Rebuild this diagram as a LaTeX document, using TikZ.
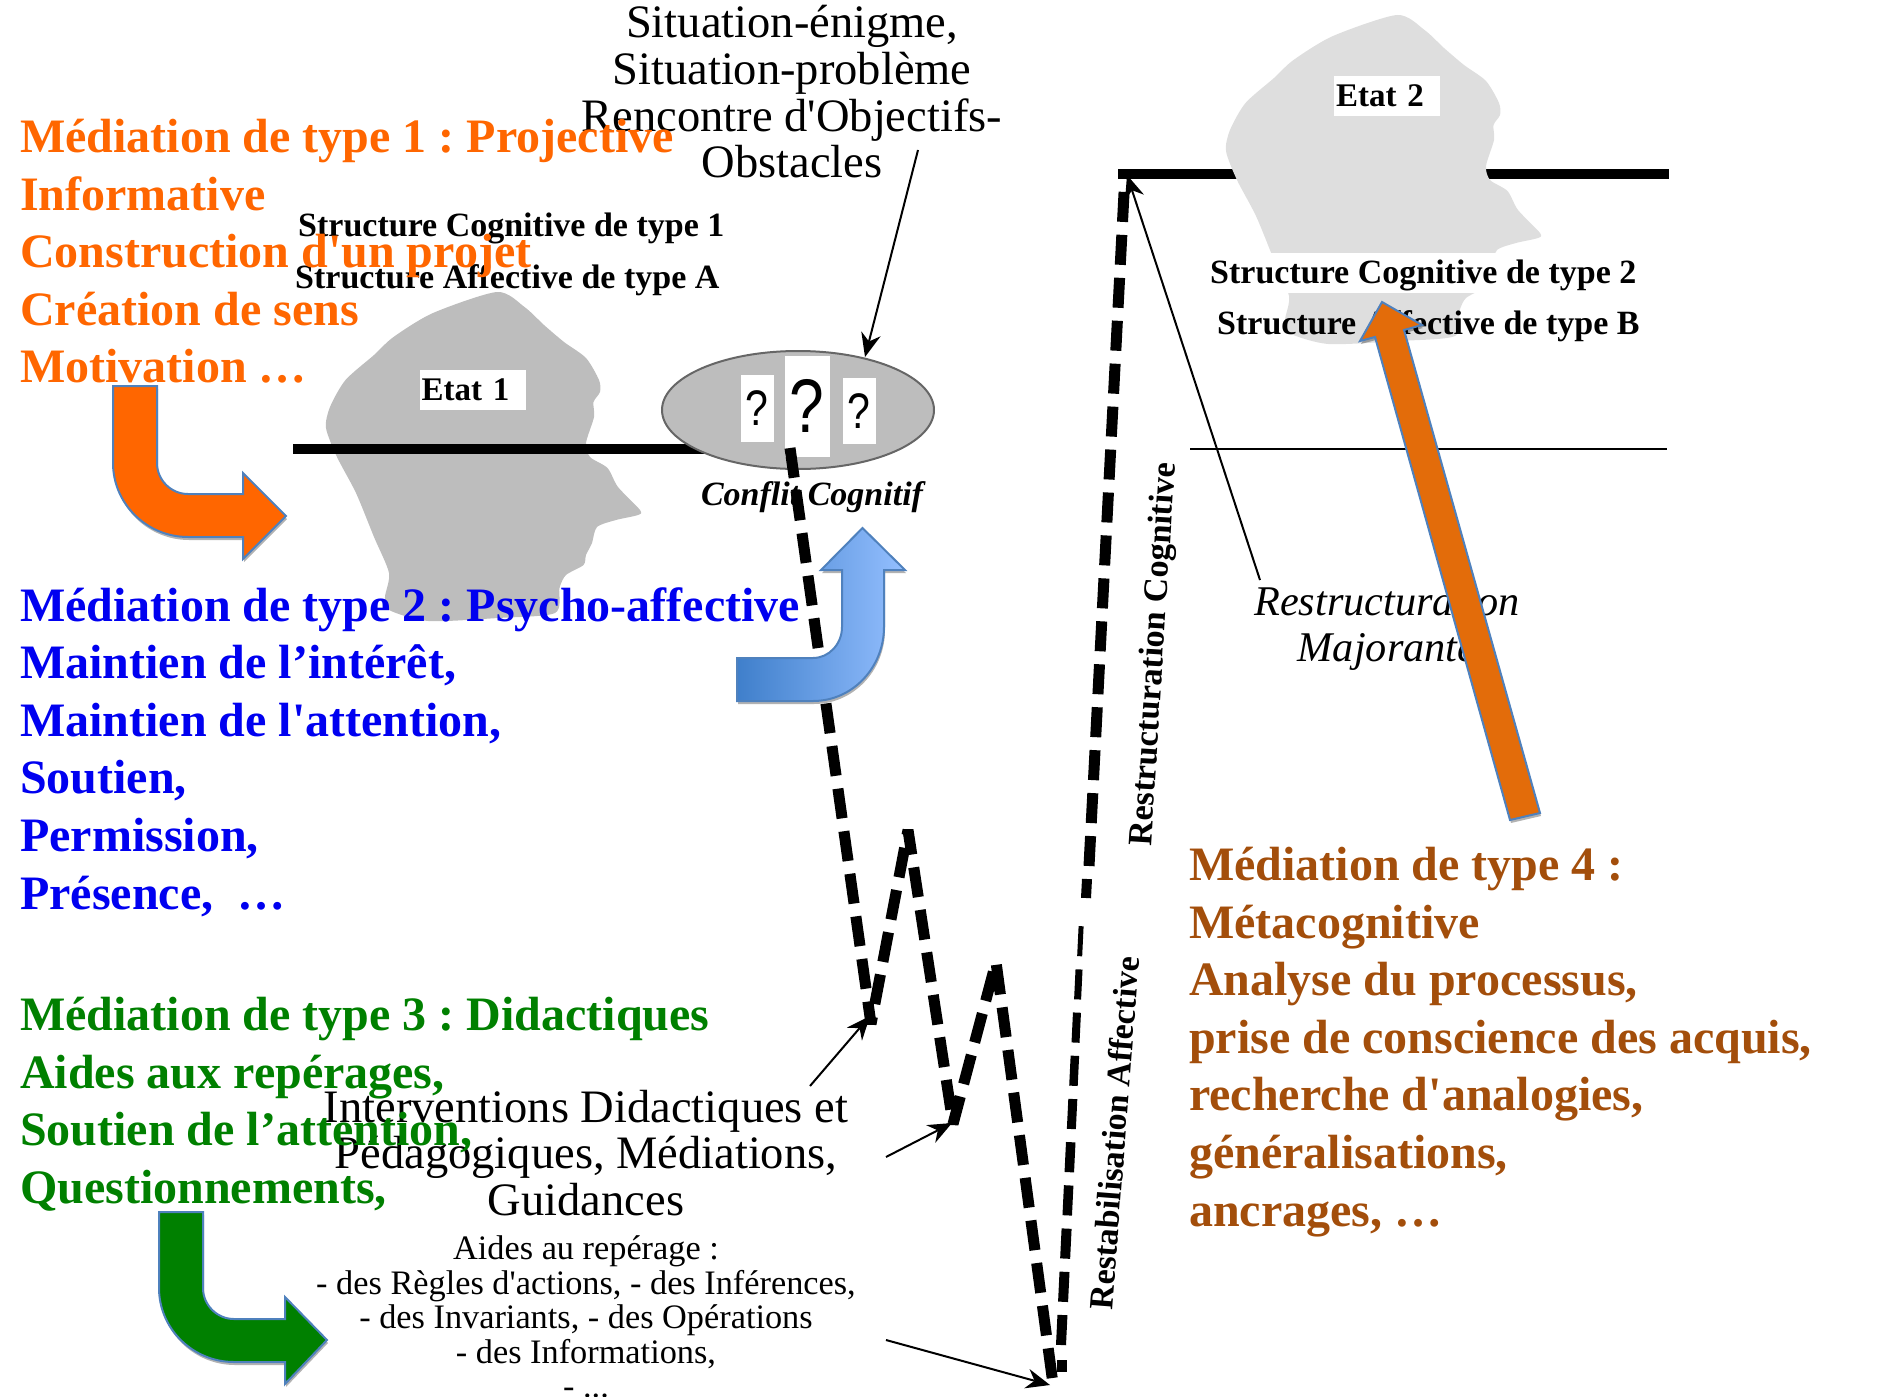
\documentclass[tikz,border=0pt]{standalone}
\usepackage{fontspec}
\setmainfont{Liberation Serif}[Ligatures=TeXOff]
\newfontfamily\qfont{Liberation Sans}
\usetikzlibrary{arrows.meta,shadows,shapes.geometric}
\definecolor{orangeA}{HTML}{FF6600}
\definecolor{blueA}{HTML}{0000F0}
\definecolor{greenA}{HTML}{008000}
\definecolor{brownA}{HTML}{A34E0B}
\definecolor{edgeA}{HTML}{4F81BD}
\definecolor{headA}{HTML}{BDBDBD}
\definecolor{headB}{HTML}{DEDEDE}
\definecolor{orangeB}{HTML}{E36C0A}
\definecolor{blueL}{HTML}{3F7FCB}
\definecolor{blueR}{HTML}{94BFFF}
\newcommand{\fsz}[1]{\fontsize{#1}{#1}\selectfont}
\newcommand{\narrowq}{\scalebox{.82}[1]{?}}
\newcommand{\headcoords}{(497,292)(524.5,307)(544,325)(564,342)(586,358)(599,380)(600,392)(593.5,402)(594,417)(586,443)(590,457)(607.5,468)(618,487)(640,510)(638,515)(616,520)(597,527)(592,543)(586,555)(583.5,565)(566,575)(559.5,588)(555,613)(498,618)(428.5,621)(389,610)(385,597)(389,573)(374,537)(356,493)(337,457)(326,428)(330,407)(345.5,380)(374,355)(393.5,337)(433,313)}
\tikzset{
  medtext/.style={anchor=north west,inner sep=0pt,align=left,font=\fontsize{48}{57.6}\selectfont\bfseries},
  plaintext/.style={inner sep=0pt,align=center,font=\fontsize{46.5}{46.7}\selectfont},
  boldlabel/.style={inner sep=0pt,anchor=base west,font=\fsz{34}\bfseries},
  etatbox/.style={fill=white,inner xsep=2pt,inner ysep=0pt,text width=102pt,align=left,minimum height=40pt,font=\fsz{33}\bfseries},
  qbox/.style={fill=white,inner sep=0pt,font=\qfont},
  thick bar/.style={line width=10pt},
  thinarrow/.style={line width=2pt,-{Stealth[inset=8pt,length=24pt,width=20pt,line width=0pt]}},
  jump/.style={line width=11pt,dash pattern=on 30pt off 13pt},
  bigarrow/.style={draw=edgeA,line width=2pt,line join=miter,drop shadow={shadow xshift=1pt,shadow yshift=-3pt,opacity=.3,fill=black}}
}
\begin{document}
\frenchspacing
\begin{tikzpicture}[x=1pt,y=-1pt]
\useasboundingbox (0,0) rectangle (1882,1397);

% heads and bars
\fill[headA] plot[smooth cycle,tension=.45] coordinates {\headcoords};
\coordinate (barAl) at (293,449);
\coordinate (barAr) at (730,449);
\draw[thick bar] (barAl) -- (barAr);
\coordinate (barBl) at (1118,174);
\coordinate (barBr) at (1669,174);
\draw[thick bar] (barBl) -- (barBr);
\begin{scope}[shift={(900,-277)}]
\fill[headB] plot[smooth cycle,tension=.45] coordinates {\headcoords};
\end{scope}
\coordinate (thinl) at (1190,449);
\coordinate (thinr) at (1667,449);
\draw[line width=2pt] (thinl) -- (thinr);

% labels on heads
\node[etatbox] (etat1) at (472.5,390) {Etat 1};
\node[etatbox] (etat2) at (1387,96) {Etat 2};
\fill[white] (1240,253) rectangle (1610,293);
\node[boldlabel] (sc1) at (298,236) {Structure Cognitive de type 1};
\node[boldlabel] (sa1) at (295,288) {Structure Affective de type A};
\node[boldlabel] (sc2) at (1210,283) {Structure Cognitive de type 2};
\node[boldlabel] (sa2) at (1217,334) {Structure Affective de type B};

% conflict ellipse
\node[draw=black!60,fill=headA,line width=2pt,ellipse,inner sep=0pt,minimum width=272pt,minimum height=118pt] (conflit) at (798,410) {};
\node[qbox,minimum width=33pt,minimum height=67pt,font=\qfont\fsz{50}] (q1) at (757,408) {\narrowq};
\node[qbox,minimum width=45pt,minimum height=101pt,font=\qfont\fsz{76}] (q2) at (807,406) {\narrowq};
\node[qbox,minimum width=33pt,minimum height=66pt,font=\qfont\fsz{50}] (q3) at (859,411) {\narrowq};
\node[inner sep=0pt,anchor=base,font=\fsz{34}\bfseries\itshape] (cc) at (812,505) {Conflit Cognitif};

% plain texts
\node[plaintext] (situ) at (792,92) {Situation-énigme,\\Situation-problème\\Rencontre d'Objectifs-\\Obstacles};
\node[plaintext,font=\fontsize{42.3}{46.7}\selectfont\itshape] (restr) at (1387,629) {Restructuration\\Majorante};
\node[plaintext] (interv) at (586,1153) {Interventions Didactiques et\\Pédagogiques, Médiations,\\Guidances};
\node[inner sep=0pt,align=center,font=\fontsize{34.3}{34.6}\selectfont] (aides) at (586,1317) {Aides au repérage :\\- des Règles d'actions, - des Inférences,\\- des Invariants, - des Opérations\\- des Informations,\\- ...};
\node[inner sep=0pt,rotate=86.4,font=\fsz{34.3}\bfseries] (rcog) at (1155,654) {Restructuration Cognitive};
\node[inner sep=0pt,rotate=85.6,font=\fsz{34}\bfseries] (raff) at (1114,1133) {Restabilisation Affective};

% mediation texts
\node[medtext,text=orangeA] (m1) at (20,119) {Médiation de type 1 : Projective\\Informative\\Construction d'un projet\\Création de sens\\Motivation \dots};
\node[medtext,text=blueA] (m2) at (20,587) {Médiation de type 2 : Psycho-affective\\Maintien de l’intérêt,\\Maintien de l'attention,\\Soutien,\\Permission,\\Présence,~ \dots};
\node[medtext,text=greenA] (m3) at (20,997) {Médiation de type 3 : Didactiques\\Aides aux repérages,\\Soutien de l’attention,\\Questionnements,};
\node[medtext,text=brownA] (m4) at (1189,847) {Médiation de type 4 :\\Métacognitive\\Analyse du processus,\\prise de conscience des acquis,\\recherche d'analogies,\\généralisations,\\ancrages, \dots};

% jagged dashed trajectory
\coordinate (p0) at (790,448);
\coordinate (p1) at (871,1024);
\coordinate (p2) at (908,830);
\coordinate (p3) at (953,1124);
\coordinate (p4) at (996,962);
\coordinate (p5) at (1053,1384);
\draw[jump,line join=bevel] (p0) -- (p1) -- (p2) -- (p3) -- (p4) -- (p5);
\coordinate (p6) at (1062,1372);
\coordinate (p7) at (1062,1360);
\draw[line width=10pt] (p6) -- (p7);
\foreach \i/\w in {0/10,1/10,2/10,3/9.5,4/9.5,5/9,6/8.5,7/8,8/7,9/5}{
  \pgfmathsetmacro\ya{1345-43.2*\i}
  \pgfmathsetmacro\yb{\ya-30}
  \pgfmathsetmacro\xa{1061+(1345-\ya)*0.048}
  \pgfmathsetmacro\xb{1061+(1345-\yb)*0.048}
  \draw[line width=\w pt] (\xa,\ya) -- (\xb,\yb);
}
\coordinate (p8) at (1089,866);
\coordinate (p9) at (1125,174);
\draw[line width=10pt] (1086,898) -- (1087,879);
\draw[jump] (p8) -- (p9);

% thin arrows
\coordinate (a1s) at (918,150);
\coordinate (a1e) at (865,357);
\draw[thinarrow] (a1s) -- (a1e);
\coordinate (a2s) at (1260,580);
\coordinate (a2e) at (1127,175);
\draw[thinarrow] (a2s) -- (a2e);
\coordinate (a3s) at (810,1086);
\coordinate (a3e) at (870,1016);
\draw[thinarrow] (a3s) -- (a3e);
\coordinate (a4s) at (886,1157);
\coordinate (a4e) at (952,1123);
\draw[thinarrow] (a4s) -- (a4e);
\coordinate (a5s) at (886,1340);
\coordinate (a5e) at (1050,1385);
\draw[thinarrow] (a5s) -- (a5e);

% big arrows
\path[bigarrow,fill=orangeA,xshift=1pt] (112,386) -- (156,386) -- (156,463)
  .. controls (156,480) and (170,494) .. (187,494) -- (242,494) -- (242,473) -- (285,516) -- (242,559) -- (242,537) -- (187,537)
  .. controls (146,537) and (112,504) .. (112,463) -- cycle;
\path[bigarrow,fill=greenA,xshift=1pt] (158,1212) -- (202,1212) -- (202,1288)
  .. controls (202,1305) and (216,1319) .. (233,1319) -- (284,1319) -- (284,1297) -- (326,1340) -- (284,1384) -- (284,1362) -- (233,1362)
  .. controls (192,1362) and (158,1329) .. (158,1288) -- cycle;
\path[bigarrow,left color=blueL,right color=blueR,xshift=-4pt] (866.5,528) -- (909,570) -- (888,570) -- (888,627)
  .. controls (888,667) and (857,701) .. (817,701) -- (741,701) -- (741,658) -- (817,658)
  .. controls (833,658) and (846,644) .. (846,627) -- (846,570) -- (825,570) -- cycle;
\path[bigarrow,fill=orangeB] (1382,302) -- (1422,325) -- (1404,330) -- (1540,813) -- (1510,820) -- (1375,337) -- (1360,341) -- cycle;
\end{tikzpicture}
\end{document}
